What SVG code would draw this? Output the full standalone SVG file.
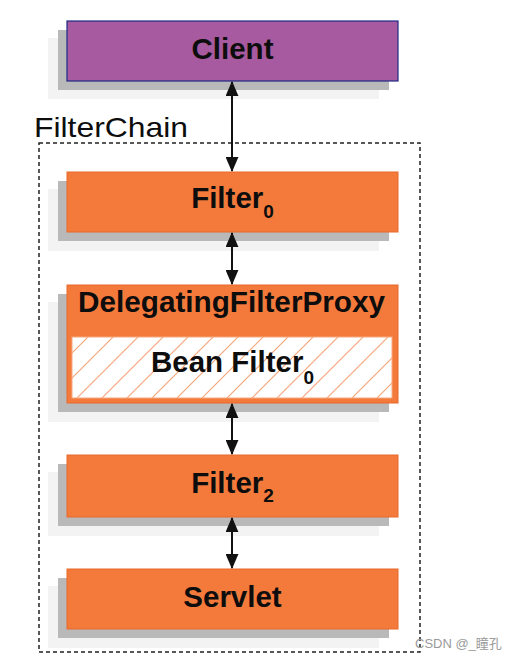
<svg xmlns="http://www.w3.org/2000/svg" width="511" height="660" viewBox="0 0 511 660">
<defs>
<style>
.sh1{fill:#f3f3f3}
.sh2{fill:#b9b9b9}
.box{fill:#f47a3c;stroke:#e8692c;stroke-width:1}
.lbl{font-family:"Liberation Sans",Arial,sans-serif;font-weight:bold;font-size:29.5px;fill:#0d0d0d;text-anchor:middle}
.sub{font-size:19px}
.ln{stroke:#111;stroke-width:2;fill:none;marker-start:url(#ah);marker-end:url(#ah)}
</style>
<marker id="ah" viewBox="0 0 14 12" refX="13" refY="6" markerWidth="15" markerHeight="13" markerUnits="userSpaceOnUse" orient="auto-start-reverse">
<path d="M0,0 L14,6 L0,12 Z" fill="#111"/>
</marker>
<pattern id="hatch" width="25" height="25" patternUnits="userSpaceOnUse">
<path d="M0,25 L25,0 M-5,5 L5,-5 M20,30 L30,20" stroke="#f6a77c" stroke-width="1.2"/>
</pattern>
</defs>
<rect x="39" y="143" width="381" height="509" fill="none" stroke="#222" stroke-width="1.5" stroke-dasharray="4,3"/>
<text x="34" y="137" font-family="'Liberation Sans',Arial,sans-serif" font-size="28" fill="#0d0d0d" textLength="154" lengthAdjust="spacingAndGlyphs">FilterChain</text>
<g id="client">
<rect class="sh1" x="48" y="38" width="331" height="61"/>
<rect class="sh2" x="58" y="30" width="331" height="60"/>
<rect x="67" y="21" width="331" height="60" fill="#a75a9f" stroke="#1d2a86" stroke-width="1.2"/>
<text class="lbl" x="232.5" y="59">Client</text>
</g>
<g id="filter0">
<rect class="sh1" x="48" y="189" width="331" height="62"/>
<rect class="sh2" x="58" y="181" width="331" height="60"/>
<rect class="box" x="67" y="172" width="331" height="60"/>
<text class="lbl" x="232.5" y="208">Filter<tspan class="sub" dy="10">0</tspan></text>
</g>
<g id="dfp">
<rect class="sh1" x="48" y="302" width="331" height="120"/>
<rect class="sh2" x="58" y="294" width="331" height="118"/>
<rect class="box" x="67" y="285" width="331" height="118"/>
<text class="lbl" x="231.5" y="312" textLength="307" lengthAdjust="spacingAndGlyphs">DelegatingFilterProxy</text>
<g id="beanfilter0">
<rect x="72" y="337" width="320" height="61" fill="#fff" stroke="#f6a77c" stroke-width="1"/>
<rect x="72" y="337" width="320" height="61" fill="url(#hatch)"/>
<text class="lbl" x="232.5" y="372">Bean Filter<tspan class="sub" dy="12">0</tspan></text>
</g>
</g>
<g id="filter2">
<rect class="sh1" x="48" y="472" width="331" height="64"/>
<rect class="sh2" x="58" y="464" width="331" height="62"/>
<rect class="box" x="67" y="455" width="331" height="62"/>
<text class="lbl" x="232.5" y="493">Filter<tspan class="sub" dy="9">2</tspan></text>
</g>
<g id="servlet">
<rect class="sh1" x="48" y="586" width="331" height="62"/>
<rect class="sh2" x="58" y="578" width="331" height="60"/>
<rect class="box" x="67" y="569" width="331" height="60"/>
<text class="lbl" x="232.5" y="607">Servlet</text>
</g>
<g id="connectors">
<line class="ln" x1="232" y1="82" x2="232" y2="171"/>
<line class="ln" x1="232" y1="233" x2="232" y2="284"/>
<line class="ln" x1="232" y1="404" x2="232" y2="454"/>
<line class="ln" x1="232" y1="518" x2="232" y2="568"/>
</g>
<text x="415" y="648" font-family="'Liberation Sans','Noto Sans CJK SC',sans-serif" font-size="13" fill="#9a9a9a">CSDN @_瞳孔</text>
</svg>
